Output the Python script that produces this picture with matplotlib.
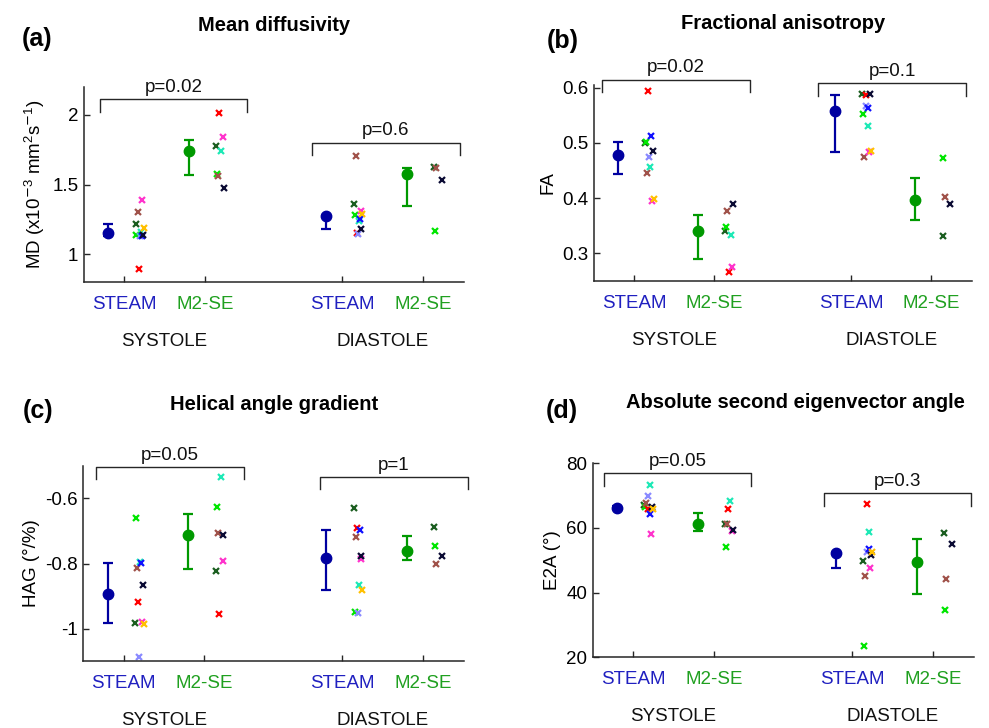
import numpy as np
import matplotlib
matplotlib.use('Agg')
import matplotlib.pyplot as plt

plt.rcParams['font.family'] = ['Liberation Sans', 'DejaVu Sans']
plt.rcParams['mathtext.default'] = 'regular'
plt.rcParams['axes.unicode_minus'] = False

nan = np.nan

# groups along x : systole STEAM, systole M2-SE, diastole STEAM, diastole M2-SE
tick_labels = ['STEAM', 'M2-SE', 'STEAM', 'M2-SE']
phase_labels = ['SYSTOLE', 'DIASTOLE']

# subjects (one colour each)
subject_colors = ['#1b5e20', '#00e600', '#a0524a', '#ff0000', '#8a8aff',
                  '#1de9b6', '#1010ff', '#ff33cc', '#0a0a33', '#ffc000']

# (a) mean diffusivity
md_subj = [
    [1.215, 1.138, 1.305, 0.89, 1.129, 1.16, 1.13, 1.387, 1.134, 1.189],
    [1.78, 1.578, 1.561, 2.014, nan, 1.742, nan, 1.838, 1.473, nan],
    [1.358, 1.284, 1.702, 1.153, 1.143, 1.236, 1.255, 1.308, 1.181, 1.291],
    [1.625, 1.167, 1.618, nan, nan, nan, nan, nan, 1.53, nan],
]
md_mid = [1.153, 1.74, 1.272, 1.573]
md_lo = [1.13, 1.566, 1.179, 1.348]
md_hi = [1.215, 1.821, 1.28, 1.62]
md_p = ['p=0.02', 'p=0.6']

# (b) fractional anisotropy
fa_subj = [
    [0.50, 0.501, 0.445, 0.594, 0.474, 0.456, 0.5126, 0.395, 0.485, 0.399],
    [0.341, 0.3485, 0.377, 0.266, nan, 0.334, nan, 0.275, 0.39, nan],
    [0.5886, 0.552, 0.474, 0.587, 0.567, 0.53, 0.563, 0.483, 0.589, 0.485],
    [0.332, 0.472, 0.403, nan, nan, nan, nan, nan, 0.39, nan],
]
fa_mid = [0.479, 0.341, 0.5575, 0.396]
fa_lo = [0.444, 0.29, 0.484, 0.361]
fa_hi = [0.501, 0.369, 0.587, 0.437]
fa_p = ['p=0.02', 'p=0.1']

# (c) helical angle gradient
hag_subj = [
    [-0.981, -0.659, -0.813, -0.919, -1.088, -0.796, -0.797, -0.979, -0.865, -0.987],
    [-0.824, -0.627, -0.706, -0.956, nan, -0.535, nan, -0.793, -0.712, nan],
    [-0.629, -0.95, -0.719, -0.692, -0.951, -0.866, -0.696, -0.787, -0.778, -0.882],
    [-0.687, -0.746, -0.802, nan, nan, nan, nan, nan, -0.777, nan],
]
hag_mid = [-0.892, -0.712, -0.783, -0.762]
hag_lo = [-0.982, -0.816, -0.882, -0.789]
hag_hi = [-0.797, -0.647, -0.697, -0.716]
hag_p = ['p=0.05', 'p=1']

# (d) absolute second eigenvector angle
e2a_subj = [
    [67.0, 66.6, 67.6, 65.9, 69.8, 73.2, 64.3, 58.1, 66.4, 65.8],
    [61.2, 54.1, 61.1, 65.8, nan, 68.4, nan, 59.2, 59.5, nan],
    [49.9, 23.5, 45.1, 67.5, 52.5, 58.8, 53.5, 47.5, 51.8, 52.5],
    [58.4, 34.6, 44.2, nan, nan, nan, nan, nan, 54.9, nan],
]
e2a_mid = [66.3, 61.1, 52.2, 49.6]
e2a_lo = [65.8, 59.2, 47.5, 39.6]
e2a_hi = [66.8, 64.6, 52.5, 56.7]
e2a_p = ['p=0.05', 'p=0.3']

# layout
xpos = np.array([1, 2, 3.71, 4.71])
jitter = [0.14, 0.15, 0.165, 0.18, 0.19, 0.205, 0.215, 0.225, 0.235, 0.245]
mean_colors = ['#0000a0', '#009900', '#0000a0', '#009900']
label_colors = ['#2020c0', '#20a020', '#2020c0', '#20a020']
axcol = '#262626'


def panel(ax, subj, mid, lo, hi, pvals, brackets, ylim, yticks, yticklabels, ylabel, title, title_x=0.5):
    for g in range(4):
        for s in range(len(subject_colors)):
            v = subj[g][s]
            if np.isnan(v):
                continue
            ax.plot(xpos[g] + jitter[s], v, 'x', color=subject_colors[s], ms=5, mew=1.6)
        ax.errorbar(xpos[g] - 0.2, mid[g], yerr=[[mid[g] - lo[g]], [hi[g] - mid[g]]],
                    fmt='o', color=mean_colors[g], ms=7.5, elinewidth=1.6, capsize=3.5, capthick=1.6)
    for (x0, x1, ytop, yleg), ptxt in zip(brackets, pvals):
        ax.plot([x0, x0, x1, x1], [yleg, ytop, ytop, yleg], color=axcol, lw=1, clip_on=False)
        ax.annotate(ptxt, ((x0 + x1) / 2, ytop), xytext=(0, 5.5), textcoords='offset points',
                    ha='center', va='baseline', fontsize=13.5, color='#111111', annotation_clip=False)
    ax.set_xlim(0.5, 5.22)
    ax.set_ylim(*ylim)
    ax.set_xticks(xpos)
    ax.set_xticklabels(tick_labels)
    for t, c in zip(ax.get_xticklabels(), label_colors):
        t.set_color(c)
    ax.set_yticks(yticks)
    ax.set_yticklabels(yticklabels)
    ax.tick_params(direction='in', length=4, width=1, color=axcol, labelsize=13.5)
    ax.tick_params(axis='x', pad=10)
    ax.tick_params(axis='y', pad=4)
    for sp in ['top', 'right']:
        ax.spines[sp].set_visible(False)
    for sp in ['left', 'bottom']:
        ax.spines[sp].set_color(axcol)
        ax.spines[sp].set_linewidth(1.1)
    ax.set_ylabel(ylabel, fontsize=13.5, labelpad=4)
    ax.set_title(title, fontsize=14.5, fontweight='bold', pad=40, x=title_x)
    for xc, lab in zip([(xpos[0] + xpos[1]) / 2, (xpos[2] + xpos[3]) / 2], phase_labels):
        ax.annotate(lab, (xc, 0), xycoords=('data', 'axes fraction'), xytext=(0, -42.5),
                    textcoords='offset points', ha='center', va='center', fontsize=13.5,
                    color='#111111', annotation_clip=False)


fig = plt.figure(figsize=(9.89, 7.28), dpi=100)
ax_a = fig.add_axes([0.0849, 0.6126, 0.3843, 0.2679])
ax_b = fig.add_axes([0.6006, 0.614, 0.3825, 0.2692])
ax_c = fig.add_axes([0.0843, 0.0916, 0.3852, 0.2687])
ax_d = fig.add_axes([0.5993, 0.097, 0.3856, 0.2666])

panel(ax_a, md_subj, md_mid, md_lo, md_hi, md_p,
      [(0.70, 2.53, 2.112, 2.024), (3.33, 5.17, 1.797, 1.709)],
      (0.8, 2.2), [1, 1.5, 2], ['1', '1.5', '2'],
      'MD (x10$^{\\mathrm{-}3}$ mm$^{2}$s$^{\\mathrm{-}1}$)', 'Mean diffusivity')
panel(ax_b, fa_subj, fa_mid, fa_lo, fa_hi, fa_p,
      [(0.604, 2.446, 0.615, 0.593), (3.30, 5.146, 0.608, 0.5856)],
      (0.25, 0.605), [0.3, 0.4, 0.5, 0.6], ['0.3', '0.4', '0.5', '0.6'],
      'FA', 'Fractional anisotropy')
panel(ax_c, hag_subj, hag_mid, hag_lo, hag_hi, hag_p,
      [(0.652, 2.484, -0.505, -0.542), (3.43, 5.26, -0.536, -0.572)],
      (-1.1, -0.5), [-1, -0.8, -0.6], ['-1', '-0.8', '-0.6'],
      'HAG (°/%)', 'Helical angle gradient')
panel(ax_d, e2a_subj, e2a_mid, e2a_lo, e2a_hi, e2a_p,
      [(0.635, 2.464, 76.9, 72.9), (3.357, 5.185, 70.7, 66.9)],
      (20, 80), [20, 40, 60, 80], ['20', '40', '60', '80'],
      'E2A (°)', 'Absolute second eigenvector angle', title_x=0.532)

for x, y, lab in [(0.0222, 0.947, '(a)'), (0.553, 0.943, '(b)'),
                  (0.0229, 0.436, '(c)'), (0.5518, 0.436, '(d)')]:
    fig.text(x, y, lab, fontsize=18, fontweight='bold', ha='left', va='center')

fig.savefig('out.png', dpi=100)
